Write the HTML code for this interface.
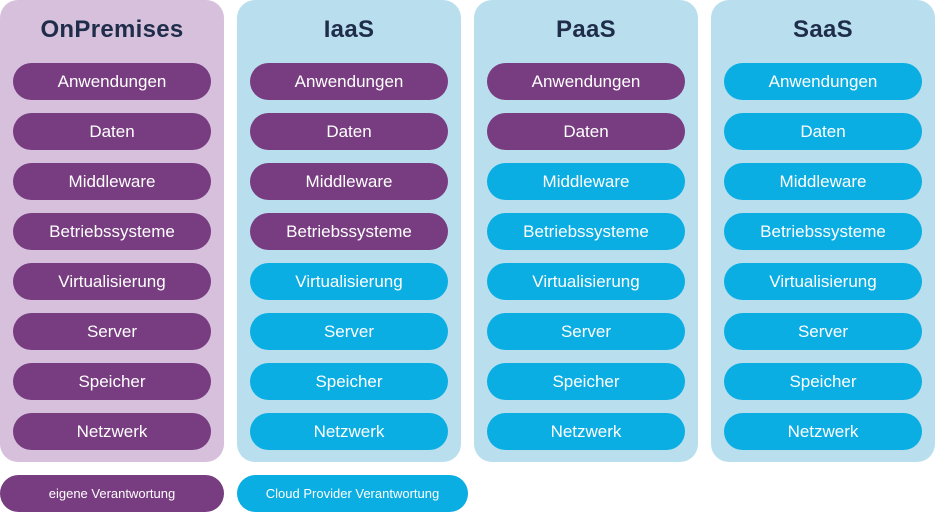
<!DOCTYPE html>
<html><head><meta charset="utf-8"><style>
body{margin:0;width:936px;height:513px;background:#fff;position:relative;overflow:hidden;font-family:"Liberation Sans",sans-serif}
.panel{position:absolute;top:0;width:224px;height:462px;border-radius:18px}
.pp{background:#d6c0dc}.pb{background:#b9dfee}
.t{position:absolute;top:16px;left:0;width:224px;text-align:center;font-size:24px;font-weight:bold;color:#1f2d4a;letter-spacing:0.3px}
.pill{position:absolute;width:198px;height:37px;border-radius:19px;color:#fff;font-size:17px;line-height:37px;text-align:center}
.P{background:#783c80}.B{background:#0aaee3}
.leg{position:absolute;top:475px;height:37px;border-radius:19px;color:#fff;font-size:13px;line-height:37px;text-align:center}
</style></head><body>
<div id="c"></div>
<script>
var cols=[["OnPremises",0,8,"pp"],["IaaS",237,4,"pb"],["PaaS",474,2,"pb"],["SaaS",711,0,"pb"]];
var rows=["Anwendungen","Daten","Middleware","Betriebssysteme","Virtualisierung","Server","Speicher","Netzwerk"];
var h="";
cols.forEach(function(c){
h+='<div class="panel '+c[3]+'" style="left:'+c[1]+'px"><div class="t">'+c[0]+'</div>';
rows.forEach(function(r,i){
h+='<div class="pill '+(i<c[2]?'P':'B')+'" style="left:13px;top:'+(63+50*i)+'px">'+r+'</div>';
});
h+='</div>';
});
document.getElementById("c").innerHTML=h;
</script>
<div class="leg P" style="left:0;width:224px">eigene Verantwortung</div>
<div class="leg B" style="left:237px;width:231px">Cloud Provider Verantwortung</div>
</body></html>
